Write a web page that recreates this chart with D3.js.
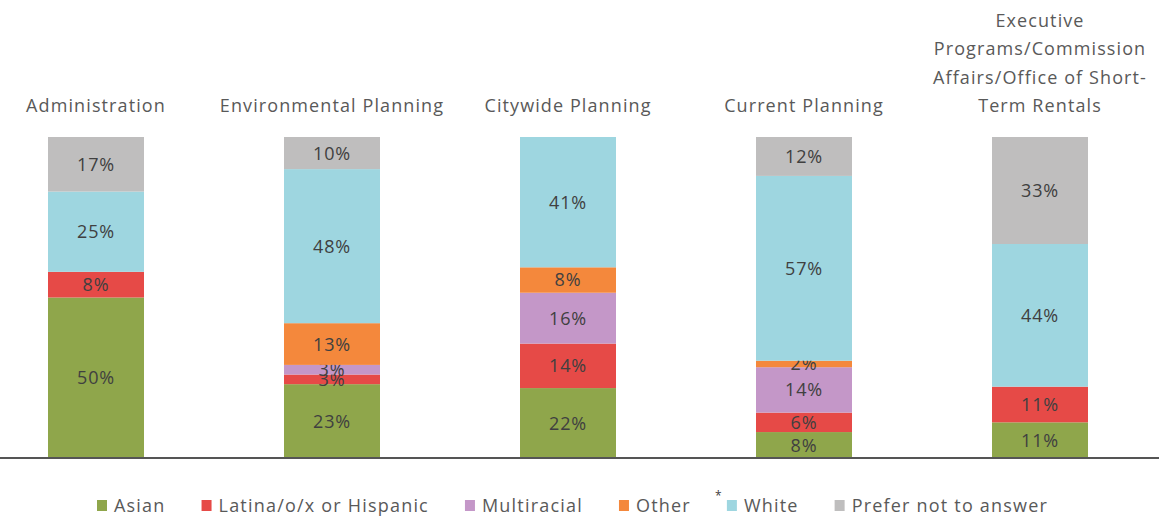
<!DOCTYPE html>
<html>
<head>
<meta charset="utf-8">
<script src="https://cdn.jsdelivr.net/npm/d3@7"></script>
<style>
  body { margin: 0; background: #fff; }
  text { font-family: "Open Sans", "Liberation Sans", sans-serif; }
</style>
</head>
<body>
<div id="chart"></div>
<script>
// Our canvas
const width = 1159,
  height = 516,
  baseY = 458,
  topY = 137,
  barWidth = 96

// Data
const divisions = ['Administration', 'Environmental Planning', 'Citywide Planning', 'Current Planning',
  'Executive Programs/Commission Affairs/Office of Short-Term Rentals']
const divisionLabels = [
  ['Administration'],
  ['Environmental Planning'],
  ['Citywide Planning'],
  ['Current Planning'],
  ['Executive', 'Programs/Commission', 'Affairs/Office of Short-', 'Term Rentals']
]
const groups = ['Asian', 'Latina/o/x or Hispanic', 'Multiracial', 'Other', 'White', 'Prefer not to answer']
const asian = [50, 23, 22, 8, 11]
const latina = [8, 3, 14, 6, 11]
const multiracial = [0, 3, 16, 14, 0]
const other = [0, 13, 8, 2, 0]
const white = [25, 48, 41, 57, 44]
const preferNot = [17, 10, 0, 12, 33]
const colors = ['#8fa64b', '#e64a47', '#c497c8', '#f4883c', '#9ed6e0', '#bfbebe']

const series = [asian, latina, multiracial, other, white, preferNot]
const rows = divisions.map((d, i) => {
  let row = { division: d }
  groups.forEach((g, j) => { row[g] = series[j][i] })
  return row
})

const stacked = d3.stack()
  .keys(groups)
  .offset(d3.stackOffsetExpand)(rows)

const xScale = d3.scalePoint()
  .domain(divisions)
  .range([96, 1040])

const yScale = d3.scaleLinear()
  .domain([0, 1])
  .range([baseY, topY])

const colorScale = d3.scaleOrdinal()
  .domain(groups)
  .range(colors)

let svg = d3.select('#chart')
  .append('svg')
  .attr('width', width)
  .attr('height', height)

// bars
let layer = svg.selectAll('g.layer')
  .data(stacked)
  .enter()
  .append('g')
  .attr('class', 'layer')
  .attr('fill', d => colorScale(d.key))

layer.selectAll('rect')
  .data(d => d)
  .enter()
  .append('rect')
  .attr('x', d => xScale(d.data.division) - barWidth / 2)
  .attr('y', d => yScale(d[1]))
  .attr('width', barWidth)
  .attr('height', d => yScale(d[0]) - yScale(d[1]))

// value labels (the two tiny 3% labels overlap in the original too)
layer.selectAll('text')
  .data(d => d.map(v => Object.assign(v, { key: d.key })))
  .enter()
  .filter(d => d.data[d.key] > 0)
  .append('text')
  .attr('x', d => xScale(d.data.division))
  .attr('y', d => (yScale(d[0]) + yScale(d[1])) / 2)
  .attr('dy', '0.36em')
  .attr('text-anchor', 'middle')
  .attr('font-size', 18)
  .attr('letter-spacing', 0.8)
  .attr('fill', '#404040')
  .text(d => d.data[d.key] + '%')

// baseline
let xAxis = d3.axisBottom(xScale).tickSize(0).tickFormat('')
svg.append('g')
  .attr('transform', `translate(0, ${baseY})`)
  .call(xAxis)
  .call(g => g.select('.domain')
    .attr('d', `M0,0H${width}`)
    .attr('stroke', '#555')
    .attr('stroke-width', 2))

// division titles
divisions.forEach((d, i) => {
  let lines = divisionLabels[i]
  let t = svg.append('text')
    .attr('text-anchor', 'middle')
    .attr('font-size', 18)
    .attr('letter-spacing', 1.1)
    .attr('fill', '#595959')
  lines.forEach((line, k) => {
    t.append('tspan')
      .attr('x', xScale(d))
      .attr('y', 112 - (lines.length - 1 - k) * 28.5)
      .text(line)
  })
})

// legend
let legend = svg.append('g')
let lx = 97
groups.forEach((g, i) => {
  let item = legend.append('g')
  if (g === 'White') {
    item.append('text')
      .attr('x', lx - 12)
      .attr('y', 500)
      .attr('font-size', 12)
      .attr('fill', '#404040')
      .text('*')
  }
  item.append('rect')
    .attr('x', lx)
    .attr('y', 500)
    .attr('width', 10)
    .attr('height', 11)
    .attr('fill', colorScale(g))
  let t = item.append('text')
    .attr('x', lx + 17)
    .attr('y', 512)
    .attr('font-size', 18)
    .attr('letter-spacing', 1.2)
    .attr('fill', '#595959')
    .text(g)
  lx += 17 + t.node().getComputedTextLength() + 36
})
</script>
</body>
</html>
